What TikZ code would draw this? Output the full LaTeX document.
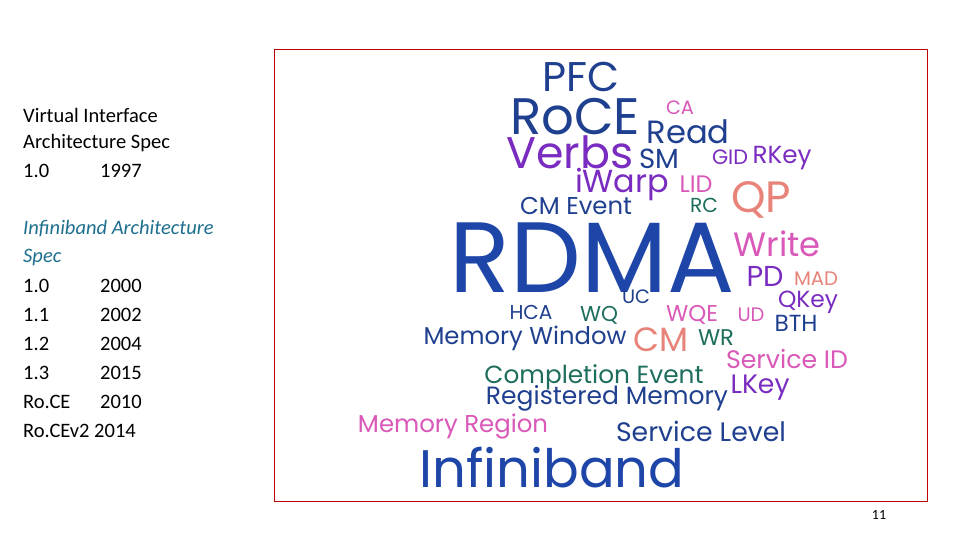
\documentclass[tikz,border=0pt]{standalone}
\usepackage{fontspec}
\usepackage{graphicx}
\setmainfont{Carlito}
\newfontfamily\cloudfont{Poppins}
\usepackage{xcolor}
\definecolor{cnavy}{HTML}{1F3F8F}
\definecolor{cblue}{HTML}{1E45A8}
\definecolor{cpurple}{HTML}{7A2CC0}
\definecolor{cpink}{HTML}{D958B8}
\definecolor{csalmon}{HTML}{E8837A}
\definecolor{cteal}{HTML}{1E6E5E}
\definecolor{cspec}{HTML}{1F6F8F}
\tikzset{
  word/.style={inner sep=0pt, anchor=center},
  slide/.style={anchor=west, inner sep=0pt, font=\fontsize{20.5}{24}\selectfont}
}
\newcommand{\cloudword}[6]{\node[word, text=#5, font=\cloudfont] (#1) at (#2,#3) {\resizebox{#4pt}{!}{#6}};}
\begin{document}
\begin{tikzpicture}[x=1pt,y=-1pt]
\useasboundingbox (0,0) rectangle (960,540);
\fill[white] (0,0) rectangle (960,540);

% left column text
\node[slide] (via1) at (23,115) {Virtual Interface};
\node[slide] (via2) at (23,143) {Architecture Spec};
\node[slide] (via3) at (23,171) {1.0};
\node[slide] (via4) at (100,171) {1997};
\node[slide,text=cspec] (iba1) at (23,229) {\itshape Infiniband Architecture};
\node[slide,text=cspec] (iba2) at (23,258) {\itshape Spec};
\node[slide] (v10) at (23,286) {1.0};  \node[slide] (y10) at (100,286) {2000};
\node[slide] (v11) at (23,315) {1.1};  \node[slide] (y11) at (100,315) {2002};
\node[slide] (v12) at (23,344) {1.2};  \node[slide] (y12) at (100,344) {2004};
\node[slide] (v13) at (23,373) {1.3};  \node[slide] (y13) at (100,373) {2015};
\node[slide] (vroce) at (23,402) {Ro.CE}; \node[slide] (yroce) at (100,402) {2010};
\node[slide] (vroce2) at (23,431) {Ro.CEv2 2014};

% word cloud frame
\draw[red!75!black, line width=0.6pt] (274,49) rectangle (927,501);

% word cloud, widths as in the slide
\cloudword{pfc}{581}{77}{77}{cnavy}{PFC}
\cloudword{roce}{575}{117}{130}{cnavy}{RoCE}
\cloudword{ca}{680}{108}{28}{cpink}{CA}
\cloudword{read}{688}{132}{83}{cnavy}{Read}
\cloudword{verbs}{570}{152}{127}{cpurple}{Verbs}
\cloudword{sm}{659}{159}{40}{cnavy}{SM}
\cloudword{gid}{730}{157}{36}{cpurple}{GID}
\cloudword{rkey}{782}{158}{59}{cpurple}{RKey}
\cloudword{iwarp}{622}{185}{94}{cpurple}{iWarp}
\cloudword{lid}{696}{184}{33}{cpink}{LID}
\cloudword{qp}{761}{200}{60}{csalmon}{QP}
\cloudword{cmev}{576}{206}{112}{cnavy}{CM Event}
\cloudword{rc}{704}{205}{28}{cteal}{RC}
\cloudword{rdma}{592}{258}{285}{cblue}{RDMA}
\cloudword{write}{777}{244}{87}{cpink}{Write}
\cloudword{pd}{765}{276}{37}{cpurple}{PD}
\cloudword{mad}{816}{279}{44}{csalmon}{MAD}
\cloudword{uc}{636}{297}{28}{cnavy}{UC}
\cloudword{qkey}{808}{302}{60}{cpurple}{QKey}
\cloudword{hca}{531}{312}{43}{cnavy}{HCA}
\cloudword{wq}{599}{315}{38}{cteal}{WQ}
\cloudword{wqe}{692}{315}{52}{cpink}{WQE}
\cloudword{ud}{751}{315}{27}{cpink}{UD}
\cloudword{bth}{796}{323}{43}{cnavy}{BTH}
\cloudword{memwin}{525}{338}{203}{cnavy}{Memory Window}
\cloudword{cm}{661}{340}{55}{csalmon}{CM}
\cloudword{wr}{716}{338}{36}{cteal}{WR}
\cloudword{servid}{787}{359}{122}{cpink}{Service ID}
\cloudword{compev}{594}{377}{219}{cteal}{Completion Event}
\cloudword{lkey}{760}{388}{59}{cpurple}{LKey}
\cloudword{regmem}{607}{398}{242}{cnavy}{Registered Memory}
\cloudword{memreg}{453}{427}{190}{cpink}{Memory Region}
\cloudword{servlvl}{701}{431}{170}{cnavy}{Service Level}
\cloudword{ib}{552}{468}{265}{cblue}{Infiniband}

% page number
\node[inner sep=0pt, font=\fontsize{14}{16}\selectfont] (pagenum) at (879,515) {11};
\end{tikzpicture}
\end{document}
